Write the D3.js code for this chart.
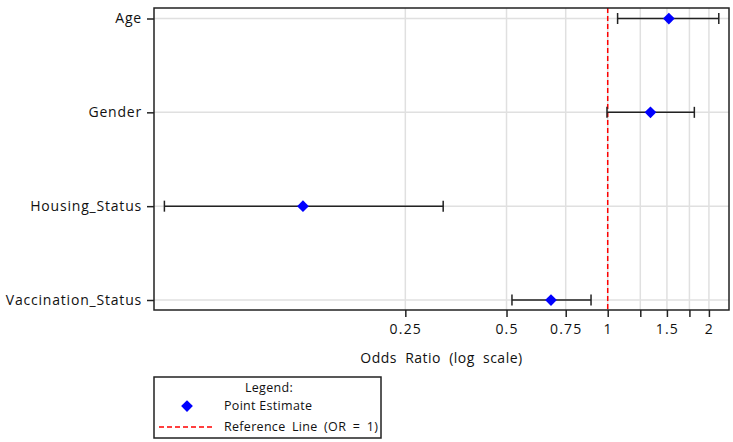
<!DOCTYPE html>
<html lang="en">
<head>
    <meta charset="UTF-8">
    <title>Odds Ratio Forest Plot</title>
    <script src="https://d3js.org/d3.v7.min.js"></script>
    <style>
        body { margin: 0; background: #fff; font-family: "Open Sans", sans-serif; }
        svg text { fill: #111; font-family: "Open Sans", sans-serif; }
    </style>
</head>
<body>
    <svg id="chart"></svg>
    <script>
        const variables = ["Age", "Gender", "Housing_Status", "Vaccination_Status"];
        const oddsRatio = [1.52, 1.34, 0.124, 0.678];
        const lowerCI = [1.07, 0.995, 0.048, 0.519];
        const upperCI = [2.14, 1.81, 0.324, 0.892];
        const tickValues = [0.25, 0.5, 0.75, 1, 1.5, 2];
        const minorTicks = [1.25, 1.75];

        const width = 733, height = 442;
        const margin = { top: 8, right: 4, bottom: 132, left: 154 };
        const plotW = width - margin.left - margin.right;
        const plotH = height - margin.top - margin.bottom;

        const svg = d3.select("#chart").attr("width", width).attr("height", height);
        const g = svg.append("g").attr("transform", `translate(${margin.left},${margin.top})`);

        const x = d3.scaleLog().domain([0.0447, 2.295]).range([0, plotW]);
        const y = d3.scalePoint().domain(variables).range([10.5, 292]);

        // grid lines
        g.selectAll(".vgrid")
            .data(tickValues.concat(minorTicks))
            .enter().append("line")
            .attr("x1", d => x(d)).attr("x2", d => x(d))
            .attr("y1", 0).attr("y2", plotH)
            .attr("stroke", "#e0e0e0").attr("stroke-width", 1.5);
        g.selectAll(".hgrid")
            .data(variables)
            .enter().append("line")
            .attr("x1", 0).attr("x2", plotW)
            .attr("y1", d => y(d)).attr("y2", d => y(d))
            .attr("stroke", "#e0e0e0").attr("stroke-width", 1.5);

        // reference line
        g.append("line")
            .attr("x1", x(1)).attr("x2", x(1))
            .attr("y1", 0).attr("y2", plotH)
            .attr("stroke", "red").attr("stroke-width", 1.5)
            .attr("stroke-dasharray", "5,3");

        // frame
        g.append("rect")
            .attr("width", plotW).attr("height", plotH)
            .attr("fill", "none").attr("stroke", "#222").attr("stroke-width", 1.5);

        // axes
        const xAxis = d3.axisBottom(x)
            .tickValues(tickValues.concat(minorTicks))
            .tickFormat(d => tickValues.includes(d) ? d : "")
            .tickSize(7).tickPadding(7);
        const gx = g.append("g").attr("transform", `translate(0,${plotH})`).call(xAxis);
        gx.select(".domain").remove();
        gx.selectAll(".tick line").attr("stroke", "#222").attr("stroke-width", 1.5);
        gx.selectAll("text").attr("font-size", 14).attr("letter-spacing", 1.2)
            .attr("font-family", "'Open Sans', sans-serif");

        const yAxis = d3.axisLeft(y).tickSize(7).tickPadding(5);
        const gy = g.append("g").call(yAxis);
        gy.select(".domain").remove();
        gy.selectAll(".tick line").attr("stroke", "#222").attr("stroke-width", 1.5);
        gy.selectAll("text").attr("font-size", 14).attr("letter-spacing", 0.8)
            .attr("font-family", "'Open Sans', sans-serif");

        g.append("text")
            .attr("x", plotW / 2).attr("y", plotH + 53)
            .attr("text-anchor", "middle").attr("font-size", 14)
            .attr("letter-spacing", 0.5).attr("word-spacing", 4)
            .text("Odds Ratio (log scale)");

        // error bars
        const rows = variables.map((v, i) => ({ v, or: oddsRatio[i], lo: lowerCI[i], hi: upperCI[i] }));
        const bars = g.selectAll(".ci").data(rows).enter().append("g");
        bars.append("line")
            .attr("x1", d => x(d.lo)).attr("x2", d => x(d.hi))
            .attr("y1", d => y(d.v)).attr("y2", d => y(d.v))
            .attr("stroke", "#222").attr("stroke-width", 1.5);
        ["lo", "hi"].forEach(k => {
            bars.append("line")
                .attr("x1", d => x(d[k])).attr("x2", d => x(d[k]))
                .attr("y1", d => y(d.v) - 5.5).attr("y2", d => y(d.v) + 5.5)
                .attr("stroke", "#222").attr("stroke-width", 1.5);
        });
        const diamond = d3.symbol().type(d3.symbolDiamond2).size(88);
        bars.append("path")
            .attr("d", diamond)
            .attr("transform", d => `translate(${x(d.or)},${y(d.v)})`)
            .attr("fill", "blue");

        // legend
        const lg = svg.append("g").attr("transform", "translate(154,377)");
        lg.append("rect").attr("width", 227).attr("height", 61)
            .attr("fill", "#fff").attr("stroke", "#222").attr("stroke-width", 1.5);
        lg.append("text").attr("x", 115).attr("y", 15).attr("text-anchor", "middle")
            .attr("font-size", 12.5).attr("letter-spacing", 0.3).text("Legend:");
        lg.append("path").attr("d", diamond).attr("transform", "translate(33,29)").attr("fill", "blue");
        lg.append("text").attr("x", 70).attr("y", 33).attr("font-size", 12.5)
            .attr("letter-spacing", 0.3).text("Point Estimate");
        lg.append("line").attr("x1", 5).attr("x2", 61).attr("y1", 50).attr("y2", 50)
            .attr("stroke", "red").attr("stroke-width", 1.5).attr("stroke-dasharray", "5,3");
        lg.append("text").attr("x", 70).attr("y", 54).attr("font-size", 12.5)
            .attr("letter-spacing", 0.3).attr("word-spacing", 3).text("Reference Line (OR = 1)");
    </script>
</body>
</html>
